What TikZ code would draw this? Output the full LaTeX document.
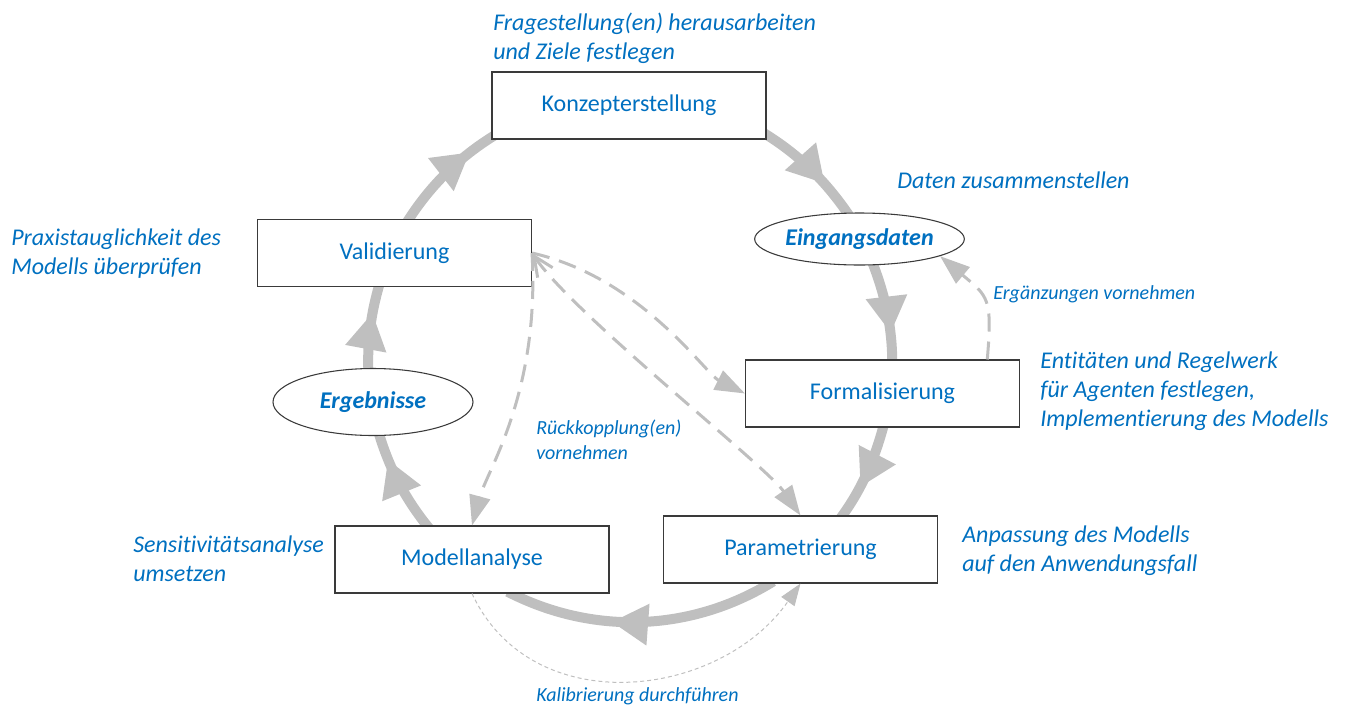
\documentclass[tikz,border=0pt]{standalone}
\usepackage{fontspec}
\setmainfont{Carlito}[Ligatures=NoCommon]
\usetikzlibrary{arrows.meta,decorations.markings,backgrounds,shapes.geometric}

\definecolor{txtblue}{HTML}{0070C0}
\definecolor{flowgrey}{HTML}{BFBFBF}
\definecolor{edgegrey}{HTML}{3A3A3A}

\newcommand\mainsize{\fontsize{18}{22}\selectfont}
\newcommand\notesize{\fontsize{15}{18.4}\selectfont}

\tikzset{
  stage/.style={rectangle, draw=edgegrey, line width=0.8pt, fill=white,
    minimum width=205.5pt, minimum height=50.25pt, inner sep=0pt,
    text=txtblue, font=\mainsize},
  result/.style={ellipse, draw=edgegrey, line width=0.8pt, fill=white,
    minimum width=150pt, inner sep=0pt,
    text=txtblue, font=\mainsize\bfseries\itshape},
  cycle/.style={draw=flowgrey, line width=7.5pt,
    shorten <=-3pt, shorten >=-3pt},
  cyclehead/.style={postaction={decorate, decoration={markings,
    mark=at position #1 with {\fill[flowgrey] (0,0) -- (-36,21) -- (-36,-21) -- cycle;}}}},
  feedback/.style={draw=flowgrey, line width=2.25pt,
    dash pattern=on 13.5pt off 7.5pt,
    -{Triangle[length=22.5pt,width=15.75pt]}},
  calib/.style={draw=flowgrey, line width=0.75pt,
    dash pattern=on 3pt off 2.25pt,
    -{Triangle[length=16.5pt,width=12pt]}},
  % multi-line notes are placed by the baseline of their last line
  note/.style={text=txtblue, font=\mainsize\itshape, align=left,
    anchor=base west, inner sep=0pt},
  smallnote/.style={note, font=\notesize\itshape},
}

\begin{document}
\begin{tikzpicture}[x=0.75pt, y=0.75pt]
\useasboundingbox (0,0) rectangle (1347,-711);

% process stages
\node[stage] (konz)  at (629,-105.5) {Konzepterstellung};
\node[stage] (valid) at (394.5,-253) {Validierung};
\node[result, minimum height=39pt] (eing) at (859.5,-239) {Eingangsdaten};
\node[stage] (form)  at (882.5,-393.5) {Formalisierung};
\node[result, minimum height=50.25pt] (ergeb) at (373,-402) {Ergebnisse};
\node[stage] (model) at (472,-559.5) {Modellanalyse};
\node[stage] (param) at (800.5,-549.5) {Parametrierung};

% main cycle, drawn behind the stages
\begin{scope}[on background layer]
\draw[cycle, cyclehead=0.67] (konz.-12.6) to[out=-31.3, in=124.1, looseness=0.86] (eing.115.7);
\draw[cycle, cyclehead=0.72] (eing.-62.6) to[out=-68.6, in=90, looseness=0.86] (form.74.2);
\draw[cycle, cyclehead=0.65] (form.-89) to[out=-104.8, in=53.5, looseness=0.86] (param.39.9);
\draw[cycle, cyclehead=0.61] (param.-132) to[out=-148.3, in=-27.2, looseness=0.91] (model.-41.4);
\draw[cycle, cyclehead=0.75] (model.143.3) to[out=129.3, in=-73.4, looseness=0.86] (ergeb.-79.7);
\draw[cycle, cyclehead=0.67] (ergeb.98.6) to[out=92, in=253.6, looseness=0.86] (valid.-115.2);
\draw[cycle, cyclehead=0.77] (valid.67) to[out=57.7, in=211.7, looseness=0.86] (konz.-167.1);
\end{scope}

% feedback loops from the validation
\draw[feedback] (valid.east) .. controls +(110,-25) and +(-40,20) .. (form.west);
\draw[feedback, {Straight Barb[length=15pt,width=13.5pt]}-{Triangle[length=22.5pt,width=15.75pt]}]
  (valid.east) .. controls +(40,-60) and +(-35,50) .. (param.north);
\draw[feedback] (valid.east) .. controls +(8,-140) and +(15,55) .. (model.north);
\draw[feedback] (form.18.1) to[out=85, in=-40, looseness=1.4] (eing.-12);
\draw[calib] (model.south) to[out=-65, in=-125, looseness=1.1] (param.south);

% annotations
\node[note] (n1) at (493,-59.8) {Fragestellung(en) herausarbeiten\\und Ziele festlegen};
\node[note] (n2) at (897,-188) {Daten zusammenstellen};
\node[note] (n3) at (11,-274.8) {Praxistauglichkeit des\\Modells überprüfen};
\node[smallnote] (n4) at (993,-299.5) {Ergänzungen vornehmen};
\node[note] (n5) at (1040,-426.7) {Entitäten und Regelwerk\\für Agenten festlegen,\\Implementierung des Modells};
\node[smallnote] (n6) at (536,-459) {Rückkopplung(en)\\vornehmen};
\node[note] (n7) at (133,-581.8) {Sensitivitätsanalyse\\umsetzen};
\node[note] (n8) at (962,-571.8) {Anpassung des Modells\\auf den Anwendungsfall};
\node[smallnote] (n9) at (536,-701) {Kalibrierung durchführen};
\end{tikzpicture}
\end{document}
